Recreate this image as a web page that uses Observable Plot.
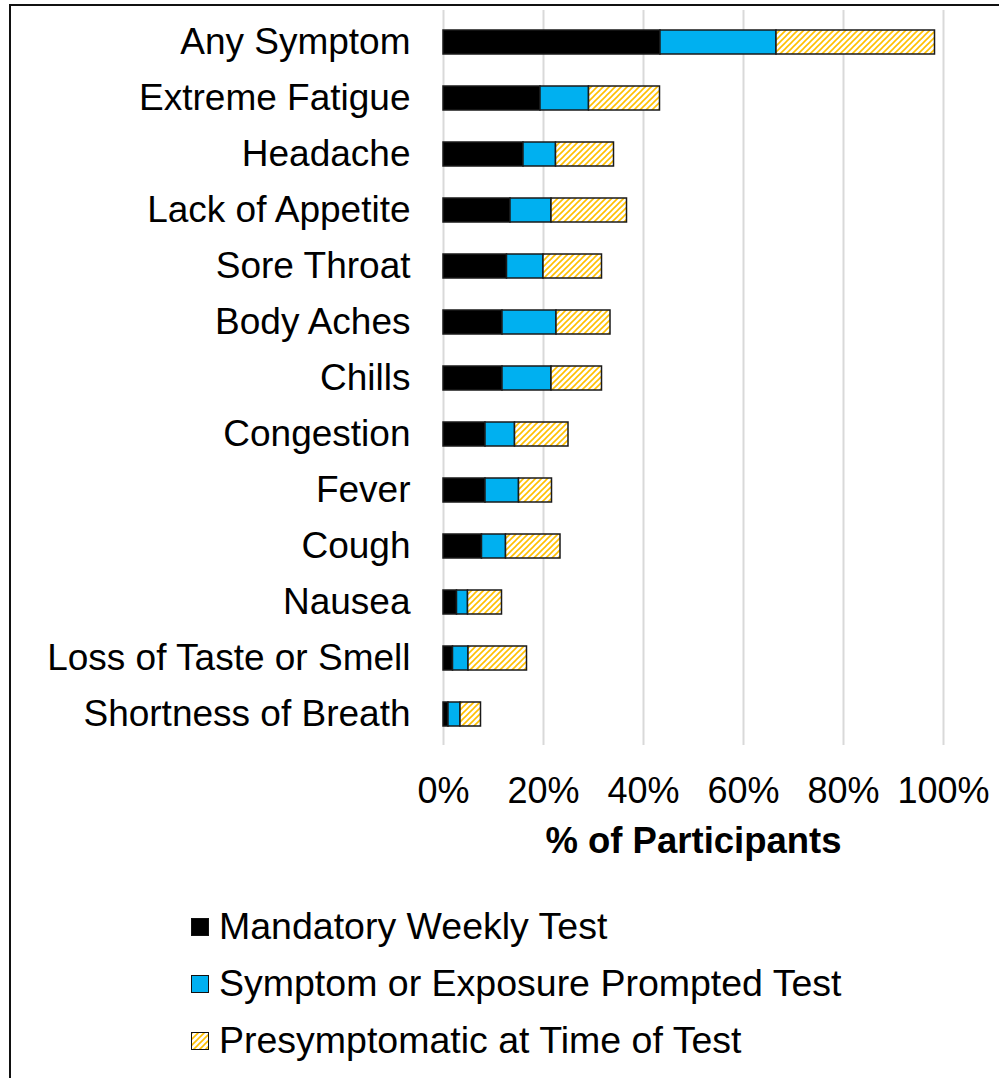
<!DOCTYPE html>
<html>
<head>
<meta charset="utf-8">
<script src="https://cdn.jsdelivr.net/npm/d3@7"></script>
<script src="https://cdn.jsdelivr.net/npm/@observablehq/plot@0.6"></script>
<style>
  html, body { margin: 0; padding: 0; background: #fff; }
  body { width: 999px; height: 1078px; overflow: hidden; position: relative; font-family: "Liberation Sans", Arial, sans-serif; }
  #frame { position: absolute; left: 9px; top: 4px; width: 1200px; height: 1200px; border-left: 2px solid #111; border-top: 2px solid #111; pointer-events: none; }
  #chart { position: absolute; left: 0; top: 0; }
  #legend { position: absolute; left: 191px; top: 898px; }
  .row { display: flex; align-items: center; height: 57px; font-size: 37.5px; color: #000; }
  .sw { width: 16px; height: 16px; border: 1.5px solid #111; margin-right: 10px; box-sizing: content-box; }
</style>
</head>
<body>
<div id="frame"></div>
<div id="chart"></div>
<div id="legend"></div>
<script>
const categories = ["Any Symptom","Extreme Fatigue","Headache","Lack of Appetite","Sore Throat","Body Aches","Chills","Congestion","Fever","Cough","Nausea","Loss of Taste or Smell","Shortness of Breath"];
const mandatory = [43.4,19.4,16.0,13.4,12.7,11.8,11.8,8.4,8.4,7.7,2.7,1.9,1.0];
const prompted  = [23.2,9.7,6.5,8.2,7.3,10.8,9.8,5.9,6.7,4.8,2.2,3.1,2.4];
const presym    = [31.7,14.2,11.6,15.1,11.7,10.8,10.1,10.7,6.6,10.9,6.8,11.7,4.1];
const seriesNames = ["Mandatory Weekly Test","Symptom or Exposure Prompted Test","Presymptomatic at Time of Test"];
const xTicks = [0,20,40,60,80,100];

const seriesValues = [mandatory, prompted, presym];
const rows = [];
seriesNames.forEach((s, si) => {
  categories.forEach((c, ci) => rows.push({category: c, series: s, value: seriesValues[si][ci]}));
});

const fills = ["#000000", "#00B0F0", "url(#hatch)"];

const plot = Plot.plot({
  width: 999,
  height: 870,
  marginLeft: 443,
  marginRight: 56,
  marginTop: 10,
  marginBottom: 125,
  style: {fontFamily: '"Liberation Sans", Arial, sans-serif', fontSize: "36px", color: "#000", background: "transparent"},
  x: {domain: [0, 100], ticks: xTicks, tickFormat: d => d + "%", label: null},
  y: {domain: categories, padding: 0, label: null},
  color: {domain: seriesNames, range: fills, type: "ordinal"},
  marks: [
    Plot.gridX(xTicks, {stroke: "#d9d9d9", strokeOpacity: 1, strokeWidth: 2}),
    Plot.axisX(xTicks, {tickSize: 0, tickPadding: 32, tickFormat: d => d + "%", fontSize: 36, label: null}),
    Plot.axisY({tickSize: 0, tickPadding: 33, fontSize: 37, label: null}),
    Plot.barX(rows, Plot.stackX({
      x: "value", y: "category", fill: "series", order: seriesNames,
      stroke: "#1a1a1a", strokeWidth: 1.5, insetTop: 16, insetBottom: 16
    })),
    Plot.text(["% of Participants"], {frameAnchor: "bottom", dy: 107, fontSize: 36.5, fontWeight: "bold", fill: "#000"})
  ]
});

plot.insertAdjacentHTML("afterbegin",
  '<defs><pattern id="hatch" patternUnits="userSpaceOnUse" width="6" height="6">' +
  '<rect width="6" height="6" fill="#fff"/>' +
  '<path d="M0,6 L6,0 M-1.5,1.5 L1.5,-1.5 M4.5,7.5 L7.5,4.5" stroke="#FFC000" stroke-width="1.6"/>' +
  '</pattern>' +
  '<pattern id="hatch2" patternUnits="userSpaceOnUse" width="6" height="6">' +
  '<rect width="6" height="6" fill="#fff"/>' +
  '<path d="M0,6 L6,0 M-1.5,1.5 L1.5,-1.5 M4.5,7.5 L7.5,4.5" stroke="#FFC000" stroke-width="1.6"/>' +
  '</pattern></defs>');
document.getElementById("chart").appendChild(plot);

// Legend (HTML, below the SVG)
const leg = document.getElementById("legend");
seriesNames.forEach((s, i) => {
  const row = document.createElement("div");
  row.className = "row";
  const sw = document.createElement("div");
  sw.className = "sw";
  if (i < 2) {
    sw.style.background = fills[i];
  } else {
    sw.innerHTML = '<svg width="16" height="16" style="display:block"><rect width="16" height="16" fill="url(#hatch2)"/></svg>';
  }
  const label = document.createElement("span");
  label.textContent = s;
  row.appendChild(sw);
  row.appendChild(label);
  leg.appendChild(row);
});
</script>
</body>
</html>
